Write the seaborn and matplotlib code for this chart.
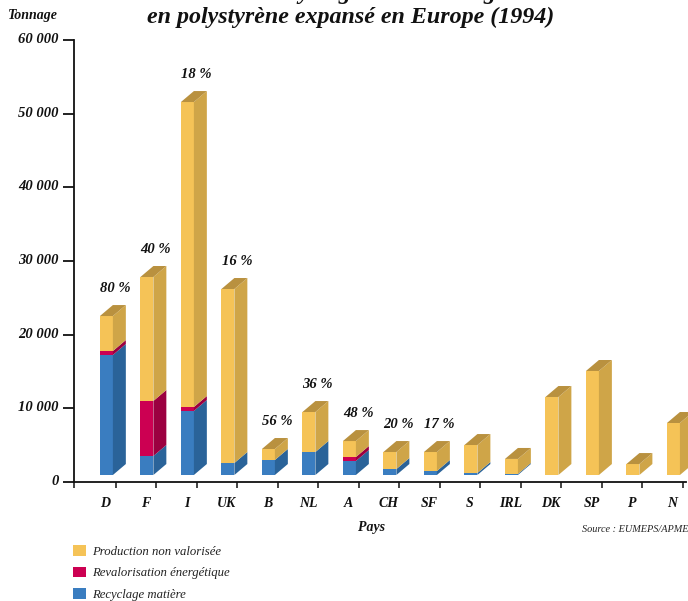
import pandas as pd
import matplotlib
matplotlib.use('Agg')
import matplotlib.pyplot as plt
from matplotlib.patches import Patch
from matplotlib.transforms import ScaledTranslation
import seaborn as sns

# Tonnage per country
pays = ['D', 'F', 'I', 'UK', 'B', 'NL', 'A', 'CH', 'SF', 'S', 'IRL', 'DK', 'SP', 'P', 'N']
recyclage = [16290, 2580, 8690, 1630, 2040, 3120, 1900, 810, 540, 270, 140, 0, 0, 0, 0]
energie = [540, 7470, 540, 0, 0, 0, 540, 0, 0, 0, 0, 0, 0, 0, 0]
production = [4750, 16830, 41400, 23620, 1490, 5430, 2170, 2310, 2580, 3800, 2040, 10590, 14120, 1490, 7060]
taux = ['80 %', '40 %', '18 %', '16 %', '56 %', '36 %', '48 %', '20 %', '17 %']
y_ticks = [0, 10000, 20000, 30000, 40000, 50000, 60000]
y_labels = ['0', '10 000', '20 000', '30 000', '40 000', '50 000', '60 000']

# front, side, top colours
c_prod = ('#F5C357', '#CFA548', '#B9913F')
c_ener = ('#CC0052', '#9B0040')
c_recy = ('#3A7DC0', '#2A6399')

W, H = 688, 601
BASE = 950      # bars float a little above the axis
BAR_W = 0.32
DX = 0.32       # depth of the fake 3d
DY = 1490

sns.set_theme(style='white')
plt.rcParams['font.family'] = ['Liberation Serif', 'DejaVu Serif']
bold = dict(fontweight='bold', fontstyle='italic', color='#111111')

df = pd.DataFrame({'pays': pays, 'recyclage': recyclage, 'energie': energie, 'production': production})
df['h_recy'] = df['recyclage']
df['h_ener'] = df['h_recy'] + df['energie']
df['h_prod'] = df['h_ener'] + df['production']

fig = plt.figure(figsize=(W / 100, H / 100), dpi=100)
ax = fig.add_axes([74 / W, 1 - 482 / H, (686 - 74) / W, (482 - 40) / H])

# Front faces, tallest first so the lower segments sit on top
for col, color in [('h_prod', c_prod[0]), ('h_ener', c_ener[0]), ('h_recy', c_recy[0])]:
    sns.barplot(data=df, x='pays', y=col, order=pays, color=color, width=BAR_W, saturation=1,
                bottom=BASE, linewidth=0, errorbar=None, ax=ax, zorder=3)

# Side and top faces
for i, row in df.iterrows():
    r = i + BAR_W / 2
    segs = [(0, row['h_recy'], c_recy[1]), (row['h_recy'], row['h_ener'], c_ener[1]),
            (row['h_ener'], row['h_prod'], c_prod[1])]
    for lo, hi, color in segs:
        if hi > lo:
            ax.fill([r, r + DX, r + DX, r],
                    [BASE + lo, BASE + lo + DY, BASE + hi + DY, BASE + hi],
                    color=color, lw=0, zorder=3, clip_on=False)
    top = BASE + row['h_prod']
    ax.fill([r - BAR_W, r, r + DX, r + DX - BAR_W], [top, top, top + DY, top + DY],
            color=c_prod[2], lw=0, zorder=3, clip_on=False)
    if i < len(taux):
        ax.annotate(taux[i], (i + 0.22, top), xytext=(0, 20), textcoords='offset points',
                    ha='center', va='center', fontsize=10.5, **bold)

ax.set_xlim(-0.80, 14.31)
ax.set_ylim(0, 60000)
ax.set_xlabel('')
ax.set_ylabel('')
for s in ['top', 'right']:
    ax.spines[s].set_visible(False)
for s in ['left', 'bottom']:
    ax.spines[s].set_linewidth(1.3)
    ax.spines[s].set_color('#111111')

ax.set_yticks(y_ticks, y_labels, fontsize=10.5, **bold)
ax.set_xticks(range(len(pays)), pays, fontsize=10, **bold)
ax.set_xticks([-0.80] + [i + 0.23 for i in range(len(pays))], minor=True)
ax.tick_params(axis='y', left=True, length=8, width=1.3, color='#111111', pad=3)
ax.tick_params(axis='x', which='major', bottom=False, length=0, pad=10.5)
ax.tick_params(axis='x', which='minor', bottom=True, length=4.5, width=1.1, color='#111111')

# y labels sit slightly above their ticks, x labels slightly left
for lab in ax.get_yticklabels():
    lab.set_transform(lab.get_transform() + ScaledTranslation(0, 2 / 100, fig.dpi_scale_trans))
for lab in ax.get_xticklabels():
    lab.set_transform(lab.get_transform() + ScaledTranslation(-1 / 100, 0, fig.dpi_scale_trans))

# first title line is cut by the top of the image, only its descenders show;
# the wording is a guess that fits those descenders, it cannot be read in the reference
fig.text(350 / W, 1 + 1.5 / H, 'Taux de recyclage des emballages', ha='center', va='baseline',
         fontsize=17.3, **bold)
fig.text(351 / W, 1 - 17 / H, 'en polystyrène expansé en Europe (1994)', ha='center', va='center',
         fontsize=17.3, **bold)
fig.text(8 / W, 1 - 16 / H, 'Tonnage', ha='left', va='center', fontsize=10, **bold)
fig.text(371 / W, 1 - 527 / H, 'Pays', ha='center', va='center', fontsize=10, **bold)
fig.text(688 / W, 1 - 529 / H, 'Source : EUMEPS/APME', ha='right', va='center', fontsize=7.4,
         fontstyle='italic', color='#222222')

handles = [Patch(facecolor=c_prod[0], lw=0, label='Production non valorisée'),
           Patch(facecolor=c_ener[0], lw=0, label='Revalorisation énergétique'),
           Patch(facecolor=c_recy[0], lw=0, label='Recyclage matière')]
leg = fig.legend(handles=handles, loc='upper left', bbox_to_anchor=(73 / W, 1 - 545 / H), frameon=False,
                 borderaxespad=0, borderpad=0, handlelength=1.0, handleheight=0.9, handletextpad=0.5,
                 labelspacing=0.7, prop=dict(size=9.2, style='italic'))
for t in leg.get_texts():
    t.set_color('#222222')

fig.savefig('out.png', dpi=100)
